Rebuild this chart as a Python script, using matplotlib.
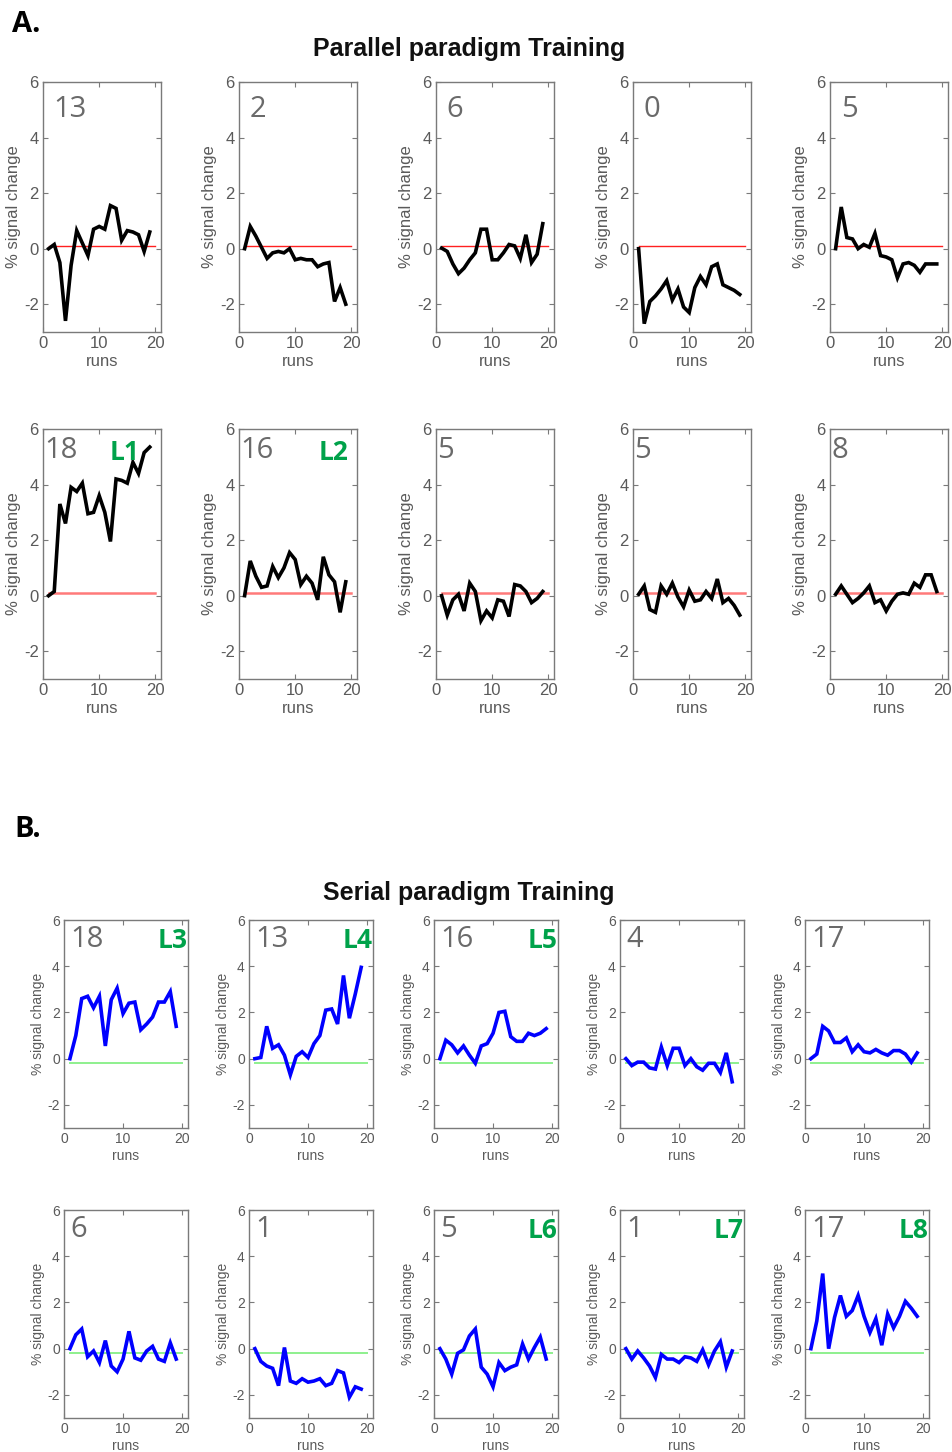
import matplotlib
matplotlib.use("Agg")
import matplotlib.pyplot as plt

# ---------------- data ----------------
runs = [1, 2, 3, 4, 5, 6, 7, 8, 9, 10, 11, 12, 13, 14, 15, 16, 17, 18, 19]
baseline_span = [1, 20]

par_counts = [13, 2, 6, 0, 5, 18, 16, 5, 5, 8]
par_tags = ["", "", "", "", "", "L1", "L2", "", "", ""]
par_base = 0.1

p1 = [0.0, 0.15, -0.5, -2.6, -0.6, 0.65, 0.2, -0.25, 0.7, 0.8, 0.7, 1.55, 1.45, 0.3, 0.65, 0.6, 0.5, -0.1, 0.6]
p2 = [0.0, 0.8, 0.45, 0.05, -0.35, -0.15, -0.1, -0.15, 0.0, -0.4, -0.35, -0.4, -0.4, -0.65, -0.55, -0.5, -1.9, -1.4, -2.0]
p3 = [0.02, -0.1, -0.55, -0.9, -0.7, -0.4, -0.15, 0.7, 0.7, -0.4, -0.4, -0.15, 0.15, 0.1, -0.35, 0.5, -0.5, -0.2, 0.9]
p4 = [0.0, -2.7, -1.9, -1.7, -1.45, -1.15, -1.85, -1.45, -2.1, -2.3, -1.4, -1.0, -1.3, -0.65, -0.55, -1.3, -1.4, -1.5, -1.65]
p5 = [0.0, 1.5, 0.4, 0.35, 0.0, 0.15, 0.05, 0.55, -0.25, -0.3, -0.4, -1.05, -0.55, -0.5, -0.6, -0.85, -0.55, -0.55, -0.55]
p6 = [0.0, 0.15, 3.3, 2.6, 3.9, 3.75, 4.05, 2.95, 3.0, 3.6, 3.0, 1.95, 4.2, 4.15, 4.05, 4.8, 4.4, 5.15, 5.35]
p7 = [0.0, 1.25, 0.7, 0.3, 0.35, 1.05, 0.65, 1.0, 1.55, 1.3, 0.4, 0.7, 0.45, -0.15, 1.4, 0.75, 0.5, -0.6, 0.5]
p8 = [0.0, -0.7, -0.15, 0.05, -0.55, 0.45, 0.15, -0.9, -0.55, -0.8, -0.15, -0.2, -0.75, 0.4, 0.35, 0.15, -0.25, -0.1, 0.15]
p9 = [0.05, 0.35, -0.5, -0.6, 0.35, 0.05, 0.45, -0.05, -0.4, 0.2, -0.2, -0.15, 0.15, -0.1, 0.6, -0.25, -0.1, -0.35, -0.7]
p10 = [0.05, 0.35, 0.05, -0.25, -0.1, 0.1, 0.35, -0.25, -0.15, -0.55, -0.2, 0.05, 0.1, 0.05, 0.45, 0.3, 0.75, 0.75, 0.15]
par_series = [p1, p2, p3, p4, p5, p6, p7, p8, p9, p10]

ser_counts = [18, 13, 16, 4, 17, 6, 1, 5, 1, 17]
ser_tags = ["L3", "L4", "L5", "", "", "", "", "L6", "L7", "L8"]
ser_base = -0.2

s1 = [0.0, 1.0, 2.6, 2.7, 2.2, 2.7, 0.55, 2.55, 3.05, 1.95, 2.4, 2.45, 1.25, 1.5, 1.8, 2.45, 2.45, 2.9, 1.4]
s2 = [0.0, 0.05, 1.4, 0.45, 0.6, 0.15, -0.7, 0.1, 0.3, 0.05, 0.65, 1.0, 2.1, 2.15, 1.5, 3.6, 1.75, 2.8, 3.95]
s3 = [0.0, 0.8, 0.6, 0.25, 0.55, 0.15, -0.2, 0.55, 0.65, 1.1, 2.0, 2.05, 0.95, 0.75, 0.75, 1.1, 1.0, 1.1, 1.3]
s4 = [0.0, -0.3, -0.15, -0.15, -0.4, -0.45, 0.5, -0.3, 0.45, 0.45, -0.3, 0.0, -0.35, -0.5, -0.2, -0.2, -0.6, 0.25, -1.0]
s5 = [0.0, 0.2, 1.4, 1.2, 0.7, 0.7, 0.9, 0.3, 0.6, 0.3, 0.25, 0.4, 0.25, 0.15, 0.35, 0.35, 0.2, -0.15, 0.25]
s6 = [0.0, 0.6, 0.85, -0.35, -0.1, -0.6, 0.35, -0.75, -1.0, -0.45, 0.75, -0.4, -0.5, -0.1, 0.1, -0.45, -0.55, 0.25, -0.45]
s7 = [0.0, -0.55, -0.75, -0.85, -1.6, 0.05, -1.4, -1.5, -1.3, -1.45, -1.4, -1.3, -1.6, -1.5, -0.95, -1.05, -2.1, -1.65, -1.75]
s8 = [0.0, -0.45, -1.1, -0.2, -0.05, 0.55, 0.85, -0.8, -1.1, -1.65, -0.6, -0.95, -0.8, -0.7, 0.2, -0.45, 0.05, 0.5, -0.45]
s9 = [0.0, -0.45, -0.1, -0.4, -0.75, -1.25, -0.25, -0.45, -0.45, -0.6, -0.35, -0.4, -0.55, -0.05, -0.7, -0.1, 0.3, -0.8, -0.1]
s10 = [0.0, 1.2, 3.25, 0.0, 1.35, 2.3, 1.4, 1.65, 2.3, 1.4, 0.7, 1.3, 0.15, 1.5, 0.9, 1.4, 2.05, 1.75, 1.4]
ser_series = [s1, s2, s3, s4, s5, s6, s7, s8, s9, s10]

xticks = [0, 10, 20]
yticks = [-2, 0, 2, 4, 6]

# ---------------- layout ----------------
W, H = 952, 1452
plt.rcParams['font.family'] = ['Liberation Sans', 'DejaVu Sans']
plt.rcParams['axes.unicode_minus'] = False
fig = plt.figure(figsize=(W / 100, H / 100), dpi=100)

GRAY = '#5a5a5a'
SPINE = '#7a7a7a'
GREEN_TXT = '#00a24a'

par_tag_x = [19.6, 19.6, 19.6, 19.6, 19.6, 17.2, 19.4, 19.6, 19.6, 19.6]


def make_ax(left, top, w, h):
    return fig.add_axes([left / W, 1 - (top + h) / H, w / W, h / H])


def style(ax, fs):
    ax.set_xlim(0, 21)
    ax.set_ylim(-3, 6)
    ax.set_xticks(xticks)
    ax.set_yticks(yticks)
    ax.tick_params(direction='in', length=3.5, width=0.8, colors=SPINE,
                   labelcolor=GRAY, labelsize=fs, top=True, right=True, pad=3)
    for sp in ax.spines.values():
        sp.set_color(SPINE)
        sp.set_linewidth(1.0)
    ax.set_ylabel('% signal change', fontsize=fs, color=GRAY, labelpad=2)
    ax.set_xlabel('runs', fontsize=fs, color=GRAY, labelpad=2)


def panel(ax, vals, count, tag, color, base, base_color, base_lw,
          num_xy, tag_x, tag_y, fs):
    style(ax, fs)
    ax.plot(baseline_span, [base, base], color=base_color, lw=base_lw, zorder=2)
    ax.plot(runs, vals, color=color, lw=2.6, solid_joinstyle='miter', zorder=3)
    ax.text(num_xy[0], num_xy[1], str(count), fontsize=21, color='#6a6a6a',
            family='Open Sans', ha='left', va='baseline')
    if tag:
        ax.text(tag_x, tag_y, tag, fontsize=19, color=GREEN_TXT,
                family='Open Sans', weight='bold', ha='right', va='baseline')


par_lefts = [43, 239, 436, 633, 830]
par_tops = [82, 429]
ser_lefts = [64, 249, 434, 620, 805]
ser_tops = [920, 1210]

for i in range(10):
    r, c = divmod(i, 5)
    ax = make_ax(par_lefts[c], par_tops[r], 118, 250)
    if r == 0:
        panel(ax, par_series[i], par_counts[i], par_tags[i], 'black', par_base,
              '#ff2020', 1.0, (1.9, 4.75), par_tag_x[i], 4.85, 12)
    else:
        panel(ax, par_series[i], par_counts[i], par_tags[i], 'black', par_base,
              '#ff7a7a', 1.8, (0.2, 4.95), par_tag_x[i], 4.9, 12)

for i in range(10):
    r, c = divmod(i, 5)
    ax = make_ax(ser_lefts[c], ser_tops[r], 124, 208)
    panel(ax, ser_series[i], ser_counts[i], ser_tags[i], '#0000ff', ser_base,
          '#8ef08e', 1.4, (1.1, 4.85), 20.9, 4.8, 10)

fig.text(12 / W, 1 - 25 / H, 'A.', fontsize=21, weight='bold', family='Open Sans',
         ha='left', va='center', color='black')
fig.text(469 / W, 1 - 49 / H, 'Parallel paradigm Training', fontsize=18, weight='bold',
         ha='center', va='center', color='#111111')
fig.text(14 / W, 1 - 830 / H, 'B.', fontsize=21, weight='bold', family='Open Sans',
         ha='left', va='center', color='black')
fig.text(469 / W, 1 - 893 / H, 'Serial paradigm Training', fontsize=18, weight='bold',
         ha='center', va='center', color='#111111')

fig.savefig('out.png', dpi=100, facecolor='white')
